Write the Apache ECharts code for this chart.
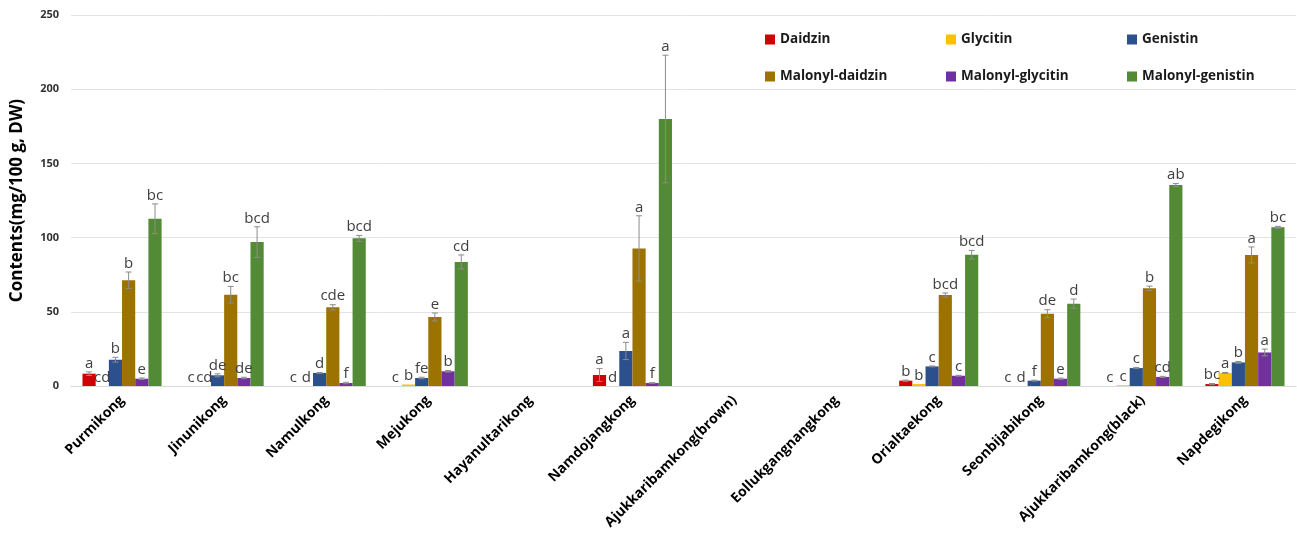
<!DOCTYPE html>
<html>
<head>
<meta charset="utf-8">
<script src="https://cdn.jsdelivr.net/npm/echarts@6/dist/echarts.min.js"></script>
<style>
  html, body { margin: 0; padding: 0; background: #ffffff; }
  #chart { width: 1297px; height: 534px; }
</style>
</head>
<body>
<div id="chart"></div>
<script>
// Soybean cultivars
const categories = ['Purmikong', 'Jinunikong', 'Namulkong', 'Mejukong', 'Hayanultarikong', 'Namdojangkong',
  'Ajukkaribamkong(brown)', 'Eollukgangnangkong', 'Orialtaekong', 'Seonbijabikong', 'Ajukkaribamkong(black)', 'Napdegikong'];

const yTicks = [0, 50, 100, 150, 200, 250];

// Isoflavone contents (mg/100 g, DW), standard deviations and significance letters
const daidzin      = [8.3, 0, 0, 0, 0, 7.4, 0, 0, 3.6, 0, 0, 1.3];
const daidzinErr   = [1.2, 0, 0, 0, 0, 4.3, 0, 0, 0.4, 0, 0, 0.4];
const daidzinSig   = ['a', 'c', 'c', 'c', '', 'a', '', '', 'b', 'c', 'c', 'bc'];

const glycitin     = [0, 0, 0, 1.0, 0, 0, 0, 0, 1.3, 0, 0.5, 8.8];
const glycitinErr  = [0, 0, 0, 0, 0, 0, 0, 0, 0, 0, 0, 0.3];
const glycitinSig  = ['cd', 'cd', 'd', 'b', '', 'd', '', '', 'b', 'd', 'c', 'a'];

const genistin     = [17.7, 7.2, 8.8, 5.4, 0, 23.6, 0, 0, 13.2, 3.6, 12.1, 15.9];
const genistinErr  = [1.6, 1.0, 0.3, 0.5, 0, 5.8, 0, 0, 0.3, 0.3, 0.4, 0.6];
const genistinSig  = ['b', 'de', 'd', 'fe', '', 'a', '', '', 'c', 'f', 'c', 'b'];

const malDaidzin    = [71.2, 61.5, 53.0, 46.5, 0, 92.7, 0, 0, 61.3, 48.7, 65.8, 88.3];
const malDaidzinErr = [5.6, 5.6, 1.8, 2.7, 0, 22.0, 0, 0, 1.4, 2.7, 1.5, 5.4];
const malDaidzinSig = ['b', 'bc', 'cde', 'e', '', 'a', '', '', 'bcd', 'de', 'b', 'a'];

const malGlycitin    = [4.9, 5.4, 2.0, 9.9, 0, 2.0, 0, 0, 6.9, 4.9, 6.1, 22.6];
const malGlycitinErr = [0.5, 0.5, 0.5, 0.5, 0, 0.3, 0, 0, 0.3, 0.4, 0.4, 2.3];
const malGlycitinSig = ['e', 'de', 'f', 'b', '', 'f', '', '', 'c', 'e', 'cd', 'a'];

const malGenistin    = [112.7, 97.0, 99.5, 83.6, 0, 179.9, 0, 0, 88.5, 55.5, 135.4, 106.9];
const malGenistinErr = [10.0, 10.3, 2.0, 4.7, 0, 43.0, 0, 0, 2.9, 3.1, 1.0, 0.7];
const malGenistinSig = ['bc', 'bcd', 'bcd', 'cd', '', 'a', '', '', 'bcd', 'd', 'ab', 'bc'];

const seriesDefs = [
  { name: 'Daidzin',          color: '#d00000', values: daidzin,     errs: daidzinErr,     sig: daidzinSig },
  { name: 'Glycitin',         color: '#ffc000', values: glycitin,    errs: glycitinErr,    sig: glycitinSig },
  { name: 'Genistin',         color: '#2c4f8e', values: genistin,    errs: genistinErr,    sig: genistinSig },
  { name: 'Malonyl-daidzin',  color: '#9c7200', values: malDaidzin,  errs: malDaidzinErr,  sig: malDaidzinSig },
  { name: 'Malonyl-glycitin', color: '#7030a0', values: malGlycitin, errs: malGlycitinErr, sig: malGlycitinSig },
  { name: 'Malonyl-genistin', color: '#538a35', values: malGenistin, errs: malGenistinErr, sig: malGenistinSig }
];

const CAT_GAP = 0.225;
const N = seriesDefs.length;
const FONT = '"Open Sans", "Noto Sans", sans-serif';

const series = [];
seriesDefs.forEach(function (d) {
  series.push({
    name: d.name,
    type: 'bar',
    data: d.values,
    barGap: '0%',
    barCategoryGap: (CAT_GAP * 100) + '%',
    itemStyle: { color: d.color },
    z: 2
  });
});

// Error bars and significance letters drawn over each bar
seriesDefs.forEach(function (d, k) {
  const data = d.values.map(function (v, i) { return [i, v, d.errs[i], d.sig[i]]; });
  series.push({
    name: d.name + '-err',
    type: 'custom',
    data: data,
    z: 5,
    silent: true,
    encode: { x: 0, y: 1 },
    renderItem: function (params, api) {
      const cat = api.value(0);
      const v = api.value(1);
      const e = api.value(2);
      const letter = d.sig[cat];
      const band = api.size([1, 0])[0];
      const barW = band * (1 - CAT_GAP) / N;
      const x = api.coord([cat, 0])[0] - (N / 2) * barW + (k + 0.5) * barW;
      const yTop = api.coord([cat, v + e])[1];
      const yBot = api.coord([cat, Math.max(0, v - e)])[1];
      const children = [];
      const errStyle = { stroke: '#8c8c8c', lineWidth: 1 };
      if (e > 0) {
        children.push({ type: 'line', shape: { x1: x, y1: yTop, x2: x, y2: yBot }, style: errStyle });
        children.push({ type: 'line', shape: { x1: x - 3, y1: yTop, x2: x + 3, y2: yTop }, style: errStyle });
        children.push({ type: 'line', shape: { x1: x - 3, y1: yBot, x2: x + 3, y2: yBot }, style: errStyle });
      }
      if (letter) {
        children.push({
          type: 'text',
          x: x,
          y: yTop - 1,
          style: {
            text: letter,
            align: 'center',
            verticalAlign: 'bottom',
            fill: '#404040',
            font: '15px ' + FONT
          }
        });
      }
      return { type: 'group', children: children };
    }
  });
});

const chart = echarts.init(document.getElementById('chart'), null, { renderer: 'canvas' });
chart.setOption({
  animation: false,
  backgroundColor: '#ffffff',
  textStyle: { fontFamily: FONT },
  grid: { left: 71, right: 1, top: 15, bottom: 148, containLabel: false },
  legend: {
    data: seriesDefs.map(function (d) { return d.name; }),
    left: 760,
    top: 26,
    width: 530,
    orient: 'horizontal',
    icon: 'rect',
    itemWidth: 10,
    itemHeight: 10,
    itemGap: 20,
    selectedMode: false,
    textStyle: {
      fontFamily: FONT,
      fontSize: 13.5,
      fontWeight: 'bold',
      color: '#1a1a1a',
      width: 146,
      lineHeight: 17
    }
  },
  xAxis: {
    type: 'category',
    data: categories,
    axisLine: { show: true, lineStyle: { color: '#d9d9d9' } },
    axisTick: { show: false },
    axisLabel: {
      interval: 0,
      rotate: 45,
      margin: 12,
      fontFamily: FONT,
      fontSize: 14,
      fontWeight: 'bold',
      color: '#000000'
    }
  },
  yAxis: {
    type: 'value',
    min: yTicks[0],
    max: yTicks[yTicks.length - 1],
    interval: yTicks[1] - yTicks[0],
    name: 'Contents(mg/100 g, DW)',
    nameLocation: 'middle',
    nameGap: 45,
    nameTextStyle: { fontFamily: FONT, fontSize: 17, fontWeight: 'bold', color: '#000000' },
    axisLine: { show: false },
    axisTick: { show: false },
    splitLine: { lineStyle: { color: '#e3e3e3', width: 1 } },
    axisLabel: {
      margin: 12,
      fontFamily: FONT,
      fontSize: 11,
      fontWeight: 'bold',
      color: '#333333'
    }
  },
  series: series
});
</script>
</body>
</html>
